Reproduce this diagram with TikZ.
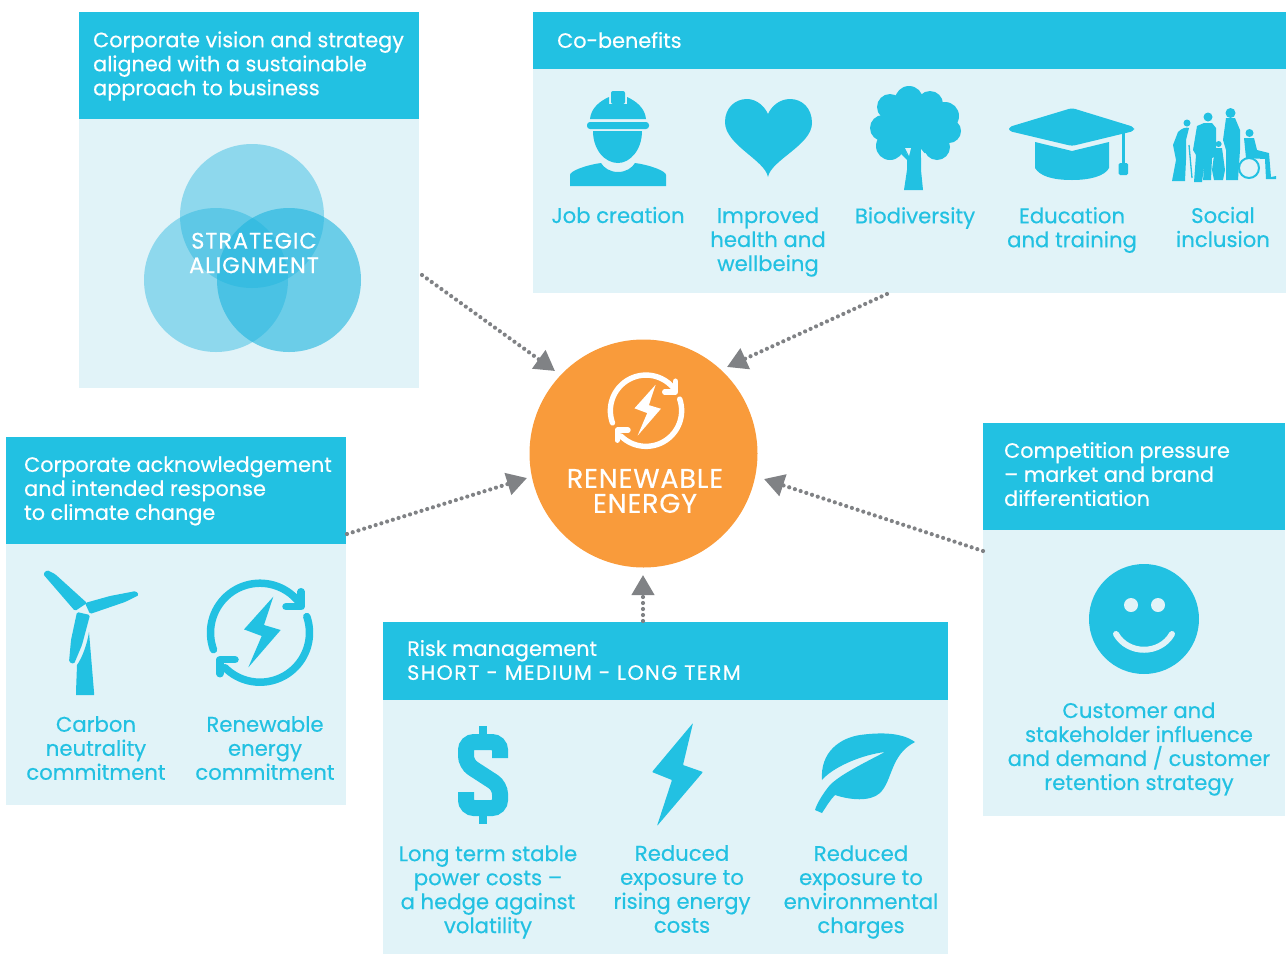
\documentclass[tikz,border=0pt]{standalone}
\usepackage{fontspec}
\setmainfont{Poppins}[FakeBold=0.4]
\usetikzlibrary{arrows.meta}
\definecolor{hdr}{HTML}{22C1E2}
\definecolor{bod}{HTML}{E1F3F8}
\definecolor{orng}{HTML}{F99B3B}
\definecolor{arrowgrey}{HTML}{808285}
\definecolor{venn}{HTML}{1DB4DE}
\tikzset{
 hdrbox/.style={fill=hdr,draw=none,inner sep=0pt,anchor=north west},
 bodbox/.style={fill=bod,draw=none,inner sep=0pt,anchor=north west},
 hdrtext/.style={text=white,align=left,anchor=west,inner sep=0pt,font=\fontsize{20.8}{24}\selectfont},
 lbl/.style={text=hdr,align=center,anchor=center,inner sep=0pt,font=\fontsize{21.2}{24}\selectfont},
 ico/.style={fill=hdr,draw=none},
 hole/.style={fill=bod,draw=none},
 dotarrow/.style={draw=arrowgrey,line width=4.2pt,line cap=round,dash pattern=on 0pt off 6pt,
   -{Triangle[length=20pt,width=22pt,fill=arrowgrey,line cap=butt]},shorten >=0pt},
}
\newcommand{\boltcycle}[5]{% x y scale linewidth colour
 \begin{scope}[shift={(#1,#2)},scale=#3]
  \draw[#5,line width=#4,line cap=round,line join=round] plot[domain=160:325,samples=40,smooth] ({49.5*cos(\x)},{49.5*sin(\x)});
  \draw[#5,line width=#4,line cap=round,line join=round] (26,-26)--(41,-26)--(41,-41);
  \draw[#5,line width=#4,line cap=round,line join=round] plot[domain=-19:135,samples=40,smooth] ({49.5*cos(\x)},{49.5*sin(\x)});
  \draw[#5,line width=#4,line cap=round,line join=round] (-25,27)--(-40,27)--(-40,41);
  \fill[#5] (13.3,-36)--(-16,-3.3)--(1.7,3.3)--(-11.7,34.7)--(20.7,-2.7)--(4,-7.7)--cycle;
 \end{scope}}
\begin{document}
\begin{tikzpicture}[x=1pt,y=-1pt]
\useasboundingbox (0,0) rectangle (1286,954);
% boxes
\node[bodbox,minimum width=340pt,minimum height=269pt] (bodyA) at (79,119) {};
\node[hdrbox,minimum width=340pt,minimum height=107pt] (headA) at (79,12) {};
\node[bodbox,minimum width=753pt,minimum height=224pt] (bodyB) at (533,69) {};
\node[hdrbox,minimum width=753pt,minimum height=57pt] (headB) at (533,12) {};
\node[bodbox,minimum width=340pt,minimum height=261pt] (bodyC) at (6,544) {};
\node[hdrbox,minimum width=340pt,minimum height=107pt] (headC) at (6,437) {};
\node[bodbox,minimum width=565pt,minimum height=254pt] (bodyD) at (383,700) {};
\node[hdrbox,minimum width=565pt,minimum height=78pt] (headD) at (383,622) {};
\node[bodbox,minimum width=302pt,minimum height=286pt] (bodyE) at (983,530) {};
\node[hdrbox,minimum width=302pt,minimum height=107pt] (headE) at (983,423) {};
% header text
\node[hdrtext] (tA) at (93,66) {Corporate vision and strategy\\aligned with a sustainable\\approach to business};
\node[hdrtext] (tB) at (557,40) {Co-benefits};
\node[hdrtext] (tC) at (24,491) {Corporate acknowledgement\\and intended response\\to climate change};
\node[hdrtext] (tD) at (407,660) {Risk management\\\addfontfeature{LetterSpace=6.5}SHORT - MEDIUM - LONG TERM};
\node[hdrtext] (tE) at (1004,474) {Competition pressure\\– market and brand\\differentiation};
% venn
\fill[venn,opacity=.42] (252,216) circle[radius=72];
\fill[venn,opacity=.42] (216,280) circle[radius=72];
\fill[venn,opacity=.6] (289,280) circle[radius=72];
\node[text=white,align=center,inner sep=0pt,font=\fontsize{22.5}{24.5}\selectfont\addfontfeature{LetterSpace=4}] (venntext) at (254,253) {STRATEGIC\\ALIGNMENT};
% centre
\node[circle,fill=orng,draw=none,minimum size=228pt,inner sep=0pt] (centre) at (643.5,453.5) {};
\boltcycle{646}{410.7}{.72}{5.4pt}{white}
\node[text=white,align=center,inner sep=0pt,font=\fontsize{27}{25}\selectfont\addfontfeature{LetterSpace=3}] (centretext) at (645,491) {RENEWABLE\\ENERGY};
% connectors
\coordinate (fromA) at (422,275);
\coordinate (toA) at (555,371);
\coordinate (fromB) at (887,294);
\coordinate (toB) at (727,367);
\coordinate (fromC) at (347,534);
\coordinate (toC) at (527,478);
\coordinate (fromE) at (983,551);
\coordinate (toE) at (764,479);
\coordinate (fromD) at (643,621);
\coordinate (toD) at (643,575);
\draw[dotarrow] (fromA)--(toA);
\draw[dotarrow] (fromB)--(toB);
\draw[dotarrow] (fromC)--(toC);
\draw[dotarrow] (fromE)--(toE);
\draw[dotarrow] (fromD)--(toD);
% worker
\fill[ico] (590,119) .. controls (591,108) and (600,101) .. (609,97) -- (609,104) -- (627,104) -- (627,97) .. controls (636,101) and (645,108) .. (646,119) -- cycle;
\fill[ico,rounded corners=2pt] (611,91) rectangle (625,104);
\fill[ico,rounded corners=3pt] (587,122) rectangle (649,129);
\fill[ico] (593,131) -- (642,131) .. controls (642,150) and (630,163) .. (618,163) .. controls (605,163) and (593,150) .. (593,131) -- cycle;
\fill[ico] (570,186) -- (666,186) -- (666,175) .. controls (666,171) and (650,165) .. (635,163) .. controls (632,168) and (626,172) .. (618,172) .. controls (610,172) and (604,168) .. (601,163) .. controls (586,165) and (570,171) .. (570,175) -- cycle;
% heart
\fill[ico] (768,177) .. controls (765,160) and (725,145) .. (725,122) .. controls (725,108) and (735,99) .. (747,99) .. controls (757,99) and (765,107) .. (768,114) .. controls (771,107) and (779,99) .. (790,99) .. controls (802,99) and (812,108) .. (812,123) .. controls (812,145) and (771,160) .. (768,177) -- cycle;
% tree
\fill[ico] (909,100) circle[radius=14];
\fill[ico] (930,104) circle[radius=13];
\fill[ico] (945,116) circle[radius=14];
\fill[ico] (949,131) circle[radius=12];
\fill[ico] (937,147) circle[radius=13];
\fill[ico] (890,107) circle[radius=13];
\fill[ico] (883,128) circle[radius=13];
\fill[ico] (890,146) circle[radius=14];
\fill[ico] (915,126) circle[radius=29];
\fill[ico] (904,190) -- (907,170) -- (907,150) -- (921,150) -- (921,170) -- (923,190) -- cycle;
\fill[hole] (905,148) -- (911,148) -- (909,156) -- cycle;
\fill[hole] (921,158) -- (921,149) -- (925,154) -- cycle;
\fill[ico] (897,150) -- (907,160) -- (907,154) -- (900,148) -- cycle;
% cap
\fill[ico,rounded corners=3pt] (1072,108) -- (1134,127) -- (1134,131) -- (1072,146) -- (1009,131) -- (1009,127) -- cycle;
\fill[ico] (1035,142) -- (1072,151) -- (1109,142) -- (1109,168) .. controls (1105,176) and (1090,180) .. (1072,180) .. controls (1052,180) and (1040,176) .. (1035,168) -- cycle;
\fill[ico] (1121.5,133) rectangle (1124.5,165);
\fill[ico,rounded corners=1.5pt] (1118.5,163) rectangle (1128,175);
% people
\fill[ico] (1187,123) circle[radius=3.5];
\fill[ico] (1178,132) .. controls (1182,128) and (1186,127) .. (1189,128) -- (1186,140) -- (1186,160) -- (1185,181) -- (1172,181) -- (1176,160) -- (1173,145) -- cycle;
\draw[hdr,line width=1.3pt] (1189,145) -- (1192,178);
\fill[ico] (1208,117) circle[radius=4.5];
\fill[ico] (1197,126) -- (1204,123) -- (1212,123) -- (1216,128) -- (1216,156) -- (1212,158) -- (1211,180) -- (1203,180) -- (1205,160) -- (1202,182) -- (1194,182) -- (1196,155) -- (1193,150) -- cycle;
\fill[ico] (1230.5,113) circle[radius=5];
\fill[ico] (1226,118) -- (1235,118) -- (1240,130) -- (1240,150) -- (1238,180) -- (1226,180) -- (1226,150) -- (1223,140) -- cycle;
\fill[ico] (1218.6,144) circle[radius=3];
\fill[ico] (1215,148) -- (1222,148) -- (1225,170) -- (1223,180) -- (1214,180) -- (1212,170) -- cycle;
\fill[ico] (1249.5,133) circle[radius=4];
\fill[ico] (1244,138) -- (1254,138) -- (1257,150) -- (1269,153) -- (1271,177) -- (1276,176) -- (1276,179) -- (1266,179) -- (1265,159) -- (1246,158) -- cycle;
\draw[hdr,line width=2pt] (1249,168) circle[radius=10];
% social labels
\node[lbl] (l1) at (618,215) {Job creation};
\node[lbl] (l2) at (768,242) {Improved\\health and\\wellbeing};
\node[lbl] (l3) at (915,218) {Biodiversity};
\node[lbl] (l4) at (1072,230) {Education\\and training};
\node[lbl] (l5) at (1223,227) {Social\\inclusion};
% turbine
\fill[ico,rounded corners=1.5pt] (43,574) -- (47,570) -- (55,574) -- (87,603) -- (75,611) -- cycle;
\fill[ico,rounded corners=1.5pt] (85,603) -- (110,596) -- (136,591) -- (139,595) -- (125,602) -- (90,614) -- cycle;
\fill[ico,rounded corners=1.5pt] (77,612) -- (90,615) -- (82,645) -- (74,664) -- (69,662) -- (71,640) -- cycle;
\fill[ico] (89,632) -- (94,692) -- (94,695) -- (76,695) -- (76,692) -- (77,665) .. controls (82,658) and (87,645) .. (89,632) -- cycle;
\fill[hole] (84,610) circle[radius=3.2];
\boltcycle{260}{632.7}{1}{7.5pt}{hdr}
\node[lbl] (l6) at (96,748) {Carbon\\neutrality\\commitment};
\node[lbl] (l7) at (265,748) {Renewable\\energy\\commitment};
% dollar
\draw[hdr,line width=16pt,rounded corners=8pt] (500,758) -- (500,742) -- (466,742) -- (466,764) -- (500,786) -- (500,808) -- (466,808) -- (466,792);
\fill[ico] (479,726) rectangle (487,736);
\fill[ico] (479,814) rectangle (487,824);
% bolt
\fill[ico,rounded corners=.8pt] (693,723) -- (683,765) -- (703,772) -- (657,826) -- (672,780) -- (652,772) -- cycle;
% leaf
\fill[ico] (915,742) .. controls (900,731) and (875,733) .. (860,735) .. controls (840,738) and (820,752) .. (822,780) .. controls (832,768) and (860,755) .. (885,752) .. controls (860,765) and (840,775) .. (830,785) .. controls (824,792) and (817,803) .. (815,810) -- (822,813) .. controls (826,807) and (830,800) .. (835,795) .. controls (850,800) and (870,802) .. (880,793) .. controls (893,780) and (890,755) .. (915,742) -- cycle;
\node[lbl] (l8) at (488,892) {Long term stable\\power costs –\\a hedge against\\volatility};
\node[lbl] (l9) at (682,889) {Reduced\\exposure to\\rising energy\\costs};
\node[lbl] (l10) at (861,892) {Reduced\\exposure to\\environmental\\charges};
% smile
\fill[ico] (1144,619) circle[radius=55];
\fill[hole] (1131,605) circle[radius=7];
\fill[hole] (1158,605) circle[radius=7];
\draw[bod,line width=6pt,line cap=round] (1116,634) .. controls (1128,655) and (1160,655) .. (1172,634);
\node[lbl] (l11) at (1139,749) {Customer and\\stakeholder influence\\and demand / customer\\retention strategy};
\end{tikzpicture}
\end{document}
